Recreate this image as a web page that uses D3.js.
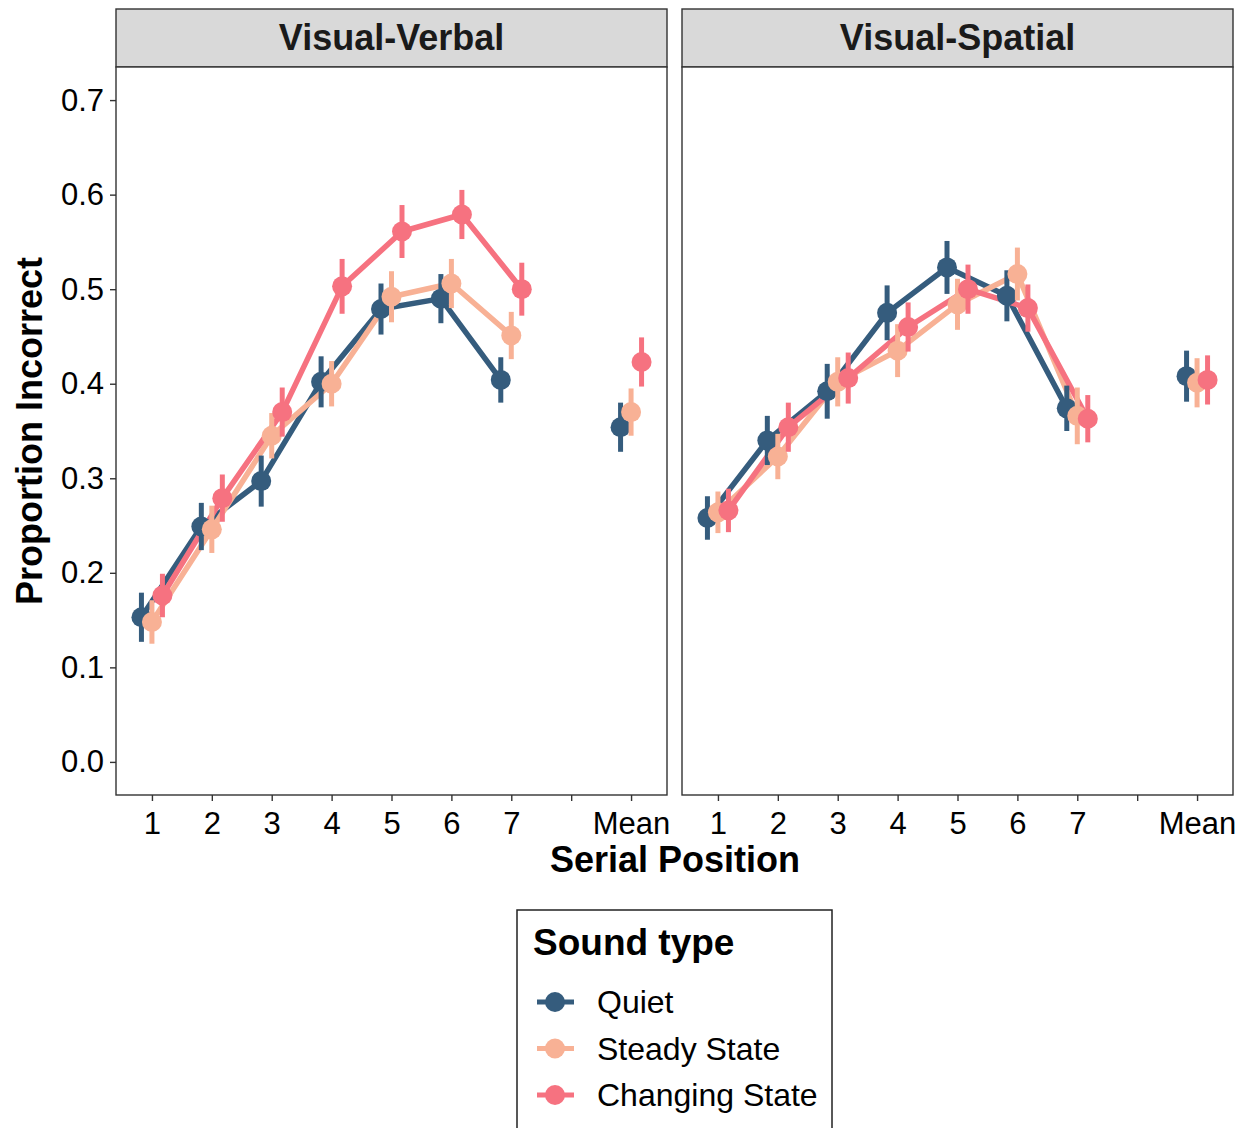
<!DOCTYPE html>
<html>
<head>
<meta charset="utf-8">
<script src="https://cdn.jsdelivr.net/npm/d3@7"></script>
<style>
	html, body { margin: 0; padding: 0; background: #fff; }
	svg { display: block; font-family: 'Liberation Sans', Arial, sans-serif; }
</style>
</head>
<body>
<svg id="chart" width="1247" height="1128"></svg>
<script>
// categories on the x axis; the blank slot separates the serial positions from the mean
const positions = ['1', '2', '3', '4', '5', '6', '7', 'gap', 'Mean'];
const positionLabels = ['1', '2', '3', '4', '5', '6', '7', '', 'Mean'];
const dataPositions = ['1', '2', '3', '4', '5', '6', '7', 'Mean'];
const panels = ['Visual-Verbal', 'Visual-Spatial'];
const soundTypes = ['Quiet', 'Steady State', 'Changing State'];
const colors = ['#355C7D', '#F8B195', '#F67280'];
const yTicks = [0.0, 0.1, 0.2, 0.3, 0.4, 0.5, 0.6, 0.7];

// proportion incorrect, per serial position 1..7 then mean
const vvQuiet = [0.153, 0.249, 0.297, 0.402, 0.479, 0.490, 0.404, 0.354];
const vvSteady = [0.148, 0.246, 0.345, 0.400, 0.492, 0.506, 0.451, 0.370];
const vvChanging = [0.176, 0.279, 0.370, 0.503, 0.561, 0.579, 0.500, 0.423];
const vsQuiet = [0.258, 0.340, 0.392, 0.475, 0.523, 0.493, 0.374, 0.408];
const vsSteady = [0.264, 0.323, 0.402, 0.435, 0.484, 0.516, 0.366, 0.401];
const vsChanging = [0.266, 0.354, 0.406, 0.460, 0.500, 0.480, 0.363, 0.404];

// error bar half-widths
const vvQuietErr = [0.026, 0.025, 0.027, 0.027, 0.027, 0.026, 0.024, 0.026];
const vvSteadyErr = [0.023, 0.025, 0.024, 0.024, 0.027, 0.026, 0.025, 0.025];
const vvChangingErr = [0.023, 0.025, 0.026, 0.029, 0.028, 0.026, 0.028, 0.026];
const vsQuietErr = [0.023, 0.026, 0.029, 0.029, 0.028, 0.027, 0.024, 0.027];
const vsSteadyErr = [0.022, 0.024, 0.026, 0.028, 0.027, 0.028, 0.030, 0.026];
const vsChangingErr = [0.023, 0.026, 0.027, 0.026, 0.026, 0.025, 0.025, 0.026];

const panelSeries = [
	[[vvQuiet, vvQuietErr], [vvSteady, vvSteadyErr], [vvChanging, vvChangingErr]],
	[[vsQuiet, vsQuietErr], [vsSteady, vsSteadyErr], [vsChanging, vsChangingErr]],
];

const svg = d3.select('#chart');
const font = "'Liberation Sans', Arial, sans-serif";

const panelX = [[116, 667], [682, 1233]];
const plotTop = 67;
const plotBottom = 795;
const stripTop = 9;
const dodge = [-10.5, 0, 10.5];

const y = d3.scaleLinear().domain([-0.035, 0.735]).range([plotBottom, plotTop]);

panels.forEach((panelName, pi) => {
	const [x0, x1] = panelX[pi];
	const x = d3.scalePoint().domain(positions).range([x0, x1]).padding(0.6);
	const g = svg.append('g');

	// strip
	g.append('rect')
		.attr('x', x0).attr('y', stripTop)
		.attr('width', x1 - x0).attr('height', plotTop - stripTop)
		.attr('fill', '#D9D9D9').attr('stroke', '#333').attr('stroke-width', 1.4);
	g.append('text')
		.attr('x', (x0 + x1) / 2).attr('y', 50)
		.attr('text-anchor', 'middle')
		.style('font', `bold 36px ${font}`)
		.attr('fill', '#1a1a1a')
		.text(panelName);

	// panel
	g.append('rect')
		.attr('x', x0).attr('y', plotTop)
		.attr('width', x1 - x0).attr('height', plotBottom - plotTop)
		.attr('fill', '#fff');

	const series = panelSeries[pi];

	// lines across serial positions 1..7
	series.forEach(([vals], si) => {
		const pts = vals.slice(0, 7).map((v, i) => [x(dataPositions[i]) + dodge[si], y(v)]);
		g.append('path')
			.attr('d', d3.line()(pts))
			.attr('fill', 'none')
			.attr('stroke', colors[si])
			.attr('stroke-width', 5.5)
			.attr('stroke-linejoin', 'round');
	});

	// point ranges
	series.forEach(([vals, errs], si) => {
		const sg = g.append('g');
		vals.forEach((v, i) => {
			const cx = x(dataPositions[i]) + dodge[si];
			sg.append('line')
				.attr('x1', cx).attr('x2', cx)
				.attr('y1', y(v - errs[i])).attr('y2', y(v + errs[i]))
				.attr('stroke', colors[si]).attr('stroke-width', 5);
			sg.append('circle')
				.attr('cx', cx).attr('cy', y(v)).attr('r', 10)
				.attr('fill', colors[si]);
		});
	});

	// border
	g.append('rect')
		.attr('x', x0).attr('y', plotTop)
		.attr('width', x1 - x0).attr('height', plotBottom - plotTop)
		.attr('fill', 'none').attr('stroke', '#333').attr('stroke-width', 1.4);

	// x axis
	const xAxis = g.append('g')
		.attr('transform', `translate(0,${plotBottom})`)
		.call(d3.axisBottom(x).tickSize(6).tickPadding(11)
			.tickFormat((d) => positionLabels[positions.indexOf(d)]));
	xAxis.select('.domain').remove();
	xAxis.selectAll('line').attr('stroke', '#333').attr('stroke-width', 1.4);
	xAxis.selectAll('text').style('font', `31px ${font}`).attr('fill', '#000');

	// y axis on the first panel only
	if (pi === 0) {
		const yAxis = g.append('g')
			.attr('transform', `translate(${x0},0)`)
			.call(d3.axisLeft(y).tickValues(yTicks).tickFormat(d3.format('.1f')).tickSize(6).tickPadding(6));
		yAxis.select('.domain').remove();
		yAxis.selectAll('line').attr('stroke', '#333').attr('stroke-width', 1.4);
		yAxis.selectAll('text').style('font', `31px ${font}`).attr('fill', '#000');
	}
});

// axis titles
svg.append('text')
	.attr('x', 675).attr('y', 872)
	.attr('text-anchor', 'middle')
	.style('font', `bold 36px ${font}`)
	.text('Serial Position');

svg.append('text')
	.attr('transform', `translate(42,${(plotTop + plotBottom) / 2}) rotate(-90)`)
	.attr('text-anchor', 'middle')
	.style('font', `bold 36px ${font}`)
	.text('Proportion Incorrect');

// legend
const legend = svg.append('g');
legend.append('rect')
	.attr('x', 517).attr('y', 910)
	.attr('width', 315).attr('height', 240)
	.attr('fill', '#fff').attr('stroke', '#222').attr('stroke-width', 1.5);
legend.append('text')
	.attr('x', 533).attr('y', 955)
	.style('font', `bold 37px ${font}`)
	.text('Sound type');

const legendY = d3.scalePoint().domain(soundTypes).range([1002, 1095]);
soundTypes.forEach((name, i) => {
	const cy = legendY(name);
	legend.append('line')
		.attr('x1', 537).attr('x2', 574)
		.attr('y1', cy).attr('y2', cy)
		.attr('stroke', colors[i]).attr('stroke-width', 5);
	legend.append('circle')
		.attr('cx', 555).attr('cy', cy).attr('r', 10)
		.attr('fill', colors[i]);
	legend.append('text')
		.attr('x', 597).attr('y', cy + 11)
		.style('font', `32px ${font}`)
		.text(name);
});
</script>
</body>
</html>
